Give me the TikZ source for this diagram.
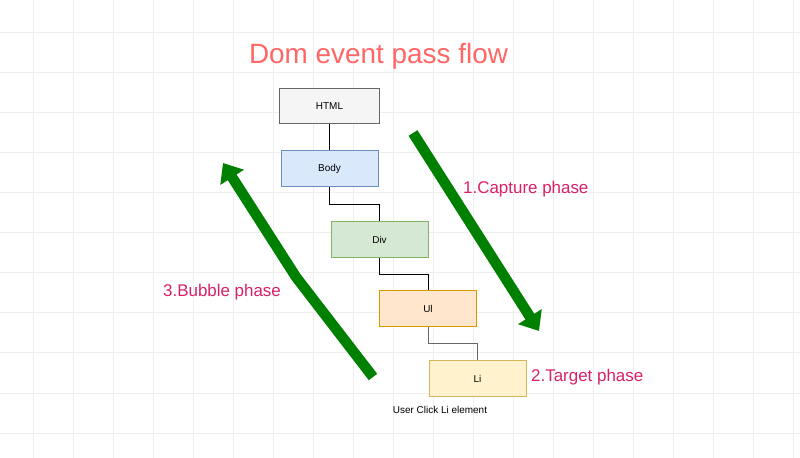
\documentclass[tikz,border=0pt]{standalone}
\usepackage{fontspec}
\setmainfont{Liberation Sans}
\usetikzlibrary{arrows.meta,calc}
\definecolor{titlered}{HTML}{FF6666}
\definecolor{phasepink}{HTML}{D9206A}
\definecolor{flowgreen}{HTML}{008000}
\definecolor{gridgrey}{HTML}{EEEEEE}
\definecolor{htmlfill}{HTML}{F5F5F5}
\definecolor{htmlline}{HTML}{666666}
\definecolor{bodyfill}{HTML}{DAE8FC}
\definecolor{bodyline}{HTML}{6C8EBF}
\definecolor{divfill}{HTML}{D5E8D4}
\definecolor{divline}{HTML}{82B366}
\definecolor{ulfill}{HTML}{FFE6CC}
\definecolor{ulline}{HTML}{D79B00}
\definecolor{lifill}{HTML}{FFF2CC}
\definecolor{liline}{HTML}{D6B656}
\begin{document}
\begin{tikzpicture}[x=1bp,y=-1bp,
  box/.style={draw,line width=1bp,minimum width=97bp,minimum height=36bp,
    inner sep=0pt,font=\fontsize{10}{12}\selectfont},
  link/.style={line width=1bp},
  flow/.style={draw=flowgreen,line width=10.5bp,
    -{Triangle[length=17bp,width=27bp]}},
  phase/.style={anchor=base west,inner sep=0pt,text=phasepink,
    font=\fontsize{17}{20}\selectfont}]
\useasboundingbox (0,0) rectangle (800,458);
\fill[white] (0,0) rectangle (800,458);
% grid
\foreach \gx in {33,73,...,793} \draw[gridgrey,line width=1bp] (\gx,0) -- (\gx,458);
\foreach \gy in {33,73,...,433} \draw[gridgrey,line width=1bp] (0,\gy) -- (800,\gy);
% title
\node[anchor=base,inner sep=0pt,text=titlered,font=\fontsize{28}{32}\selectfont]
  (title) at (378.5,64) {Dom event pass flow};
% element boxes
\node[box,fill=htmlfill,draw=htmlline,minimum width=100bp,minimum height=35bp]
  (html) at (329.5,106.5) {HTML};
\node[box,fill=bodyfill,draw=bodyline] (body) at (329.5,169) {Body};
\node[box,fill=divfill,draw=divline] (div) at (379.5,239.5) {Div};
\node[box,fill=ulfill,draw=ulline] (ul) at (428,309) {Ul};
\node[box,fill=lifill,draw=liline] (li) at (477.5,378.5) {Li};
\node[anchor=base,inner sep=0pt,font=\fontsize{10}{12}\selectfont]
  (click) at (440,413) {User Click Li element};
% tree links
\draw[link] (html.south) -- (body.north);
\draw[link] (body.south) |- ($(body.south)!.5!(div.north)$) -| (div.north);
\draw[link] (div.south) |- ($(div.south)!.5!(ul.north)$) -| (ul.north);
\draw[link,htmlline] (ul.south) |- ($(ul.south)!.5!(li.north)$) -| (li.north);
% phase arrows
\coordinate (capfrom) at (413,133);
\coordinate (capto) at (539,331);
\coordinate (bubfrom) at (373,377);
\coordinate (bubbend) at (296,277);
\coordinate (bubto) at (223,163);
\draw[flow] (capfrom) -- (capto);
\draw[flow] (bubfrom) -- (bubbend) -- (bubto);
% phase labels
\node[phase] (capture) at (463,194) {1.Capture phase};
\node[phase] (target) at (531,382) {2.Target phase};
\node[phase] (bubble) at (163,297) {3.Bubble phase};
\end{tikzpicture}
\end{document}
